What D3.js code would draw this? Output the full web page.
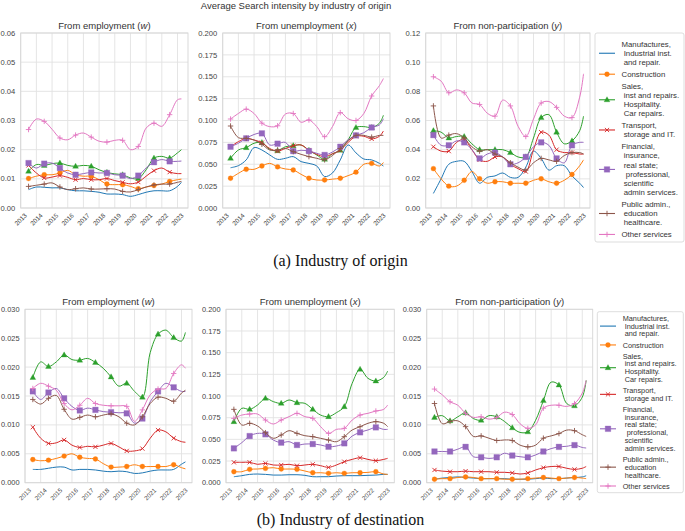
<!DOCTYPE html>
<html><head><meta charset="utf-8">
<script src="https://cdn.jsdelivr.net/npm/d3@7"></script>
<style>
html,body{margin:0;padding:0;background:#fff;}
svg{display:block;}
text{font-family:"Liberation Sans",Arial,sans-serif;}
text.caption{font-family:"Liberation Serif","Times New Roman",serif;}
</style></head><body>
<svg id="chart" width="685" height="531"></svg>
<script>
// ---------------- DATA ----------------
const years = [2013.5,2014,2014.5,2015,2015.5,2016,2016.5,2017,2017.5,2018,2018.5,2019,2019.5,2020,2020.5,2021,2021.5,2022,2022.5,2023,2023.25];
const yearTicks = [2013,2014,2015,2016,2017,2018,2019,2020,2021,2022,2023];
const industryLabels = [
  ["Manufactures,", " Industrial inst.", " and repair."],
  ["Construction"],
  ["Sales,", " inst and repairs.", " Hospitality.", " Car repairs."],
  ["Transport,", " storage and IT."],
  ["Financial,", " insurance,", " real state;", "  professional,", " scientific", " admin services."],
  ["Public admin.,", " education", " healthcare."],
  ["Other services"]
];
const panelTitles = [["From employment (", "w", ")"], ["From unemployment (", "x", ")"], ["From non-participation (", "y", ")"]];
const suptitleTop = "Average Search intensity by industry of origin";
const captions = ["(a) Industry of origin", "(b) Industry of destination"];

const ticksTopW = [0, 0.01, 0.02, 0.03, 0.04, 0.05, 0.06];
const labelsTopW = ["0.00", "0.01", "0.02", "0.03", "0.04", "0.05", "0.06"];
const ticksX = [0, 0.025, 0.05, 0.075, 0.1, 0.125, 0.15, 0.175, 0.2];
const labelsX = ["0.000", "0.025", "0.050", "0.075", "0.100", "0.125", "0.150", "0.175", "0.200"];
const ticksTopY = [0, 0.02, 0.04, 0.06, 0.08, 0.10, 0.12];
const labelsTopY = ["0.00", "0.02", "0.04", "0.06", "0.08", "0.10", "0.12"];
const ticksBot = [0, 0.005, 0.01, 0.015, 0.02, 0.025, 0.03];
const labelsBot = ["0.000", "0.005", "0.010", "0.015", "0.020", "0.025", "0.030"];

// series order: manufactures, construction, sales, transport, financial, public admin, other
const originW = [
  [0.0063,0.0072,0.0071,0.0069,0.0069,0.0063,0.0059,0.0059,0.0057,0.0054,0.0048,0.0048,0.0046,0.0040,0.0046,0.0054,0.0059,0.0059,0.0059,0.0074,0.0088],
  [0.0101,0.0109,0.0114,0.0114,0.0120,0.0129,0.0114,0.0109,0.0109,0.0097,0.0082,0.0080,0.0080,0.0074,0.0066,0.0072,0.0077,0.0082,0.0091,0.0097,0.0099],
  [0.0126,0.0149,0.0146,0.0152,0.0154,0.0146,0.0143,0.0146,0.0143,0.0131,0.0122,0.0117,0.0114,0.0103,0.0101,0.0131,0.0171,0.0177,0.0171,0.0189,0.0200],
  [0.0146,0.0120,0.0103,0.0106,0.0111,0.0105,0.0097,0.0101,0.0097,0.0097,0.0101,0.0094,0.0088,0.0083,0.0089,0.0109,0.0128,0.0137,0.0123,0.0118,0.0118],
  [0.0154,0.0137,0.0152,0.0154,0.0137,0.0120,0.0114,0.0118,0.0122,0.0120,0.0120,0.0114,0.0111,0.0101,0.0111,0.0137,0.0157,0.0166,0.0160,0.0160,0.0161],
  [0.0074,0.0078,0.0082,0.0086,0.0072,0.0063,0.0066,0.0069,0.0065,0.0065,0.0066,0.0065,0.0057,0.0055,0.0063,0.0072,0.0079,0.0082,0.0082,0.0088,0.0091],
  [0.0269,0.0305,0.0297,0.0270,0.0240,0.0234,0.0250,0.0257,0.0243,0.0229,0.0226,0.0232,0.0232,0.0200,0.0211,0.0274,0.0291,0.0280,0.0320,0.0371,0.0374]
];
const originX = [
  [0.046,0.0484,0.055,0.069,0.0663,0.0606,0.0556,0.0568,0.0587,0.053,0.051,0.048,0.036,0.040,0.055,0.072,0.063,0.056,0.055,0.051,0.048],
  [0.034,0.0396,0.0442,0.0442,0.048,0.051,0.047,0.0446,0.0434,0.0385,0.034,0.032,0.032,0.033,0.034,0.037,0.041,0.050,0.051,0.048,0.052],
  [0.0568,0.0663,0.069,0.074,0.0747,0.067,0.0655,0.070,0.0712,0.072,0.066,0.0606,0.0556,0.062,0.066,0.078,0.092,0.093,0.092,0.097,0.106],
  [0.070,0.0758,0.0796,0.0777,0.0747,0.068,0.065,0.068,0.0712,0.072,0.066,0.0613,0.0587,0.062,0.066,0.075,0.082,0.082,0.079,0.082,0.088],
  [0.070,0.074,0.0796,0.084,0.0853,0.072,0.0735,0.075,0.065,0.066,0.065,0.0625,0.0606,0.064,0.070,0.078,0.083,0.086,0.092,0.095,0.102],
  [0.0937,0.0804,0.0796,0.0777,0.0728,0.0663,0.0663,0.068,0.0644,0.0613,0.0587,0.0568,0.055,0.060,0.068,0.077,0.083,0.083,0.081,0.083,0.083],
  [0.1017,0.108,0.113,0.108,0.097,0.093,0.094,0.1074,0.108,0.098,0.1006,0.093,0.0815,0.093,0.109,0.102,0.100,0.108,0.128,0.140,0.148]
];
const originY = [
  [0.010,0.020,0.030,0.032,0.032,0.025,0.017,0.021,0.022,0.024,0.021,0.021,0.028,0.039,0.034,0.026,0.029,0.029,0.022,0.017,0.014],
  [0.027,0.020,0.015,0.015,0.019,0.025,0.020,0.017,0.018,0.018,0.017,0.017,0.017,0.019,0.020,0.018,0.017,0.019,0.023,0.029,0.033],
  [0.053,0.052,0.048,0.049,0.049,0.044,0.040,0.040,0.040,0.040,0.038,0.035,0.035,0.048,0.062,0.064,0.052,0.044,0.046,0.053,0.063],
  [0.042,0.039,0.039,0.045,0.047,0.040,0.033,0.032,0.035,0.035,0.030,0.027,0.025,0.040,0.052,0.050,0.040,0.038,0.038,0.037,0.037],
  [0.050,0.043,0.043,0.046,0.045,0.040,0.034,0.037,0.038,0.035,0.030,0.031,0.035,0.042,0.045,0.043,0.034,0.031,0.043,0.045,0.045],
  [0.070,0.048,0.050,0.051,0.048,0.042,0.039,0.040,0.037,0.035,0.031,0.028,0.026,0.031,0.034,0.033,0.032,0.036,0.038,0.038,0.037],
  [0.090,0.087,0.079,0.081,0.079,0.072,0.071,0.065,0.063,0.074,0.070,0.056,0.049,0.061,0.072,0.073,0.069,0.063,0.062,0.076,0.092]
];
const destW = [
  [0.0023,0.0023,0.0025,0.0027,0.0027,0.0022,0.0023,0.0023,0.0022,0.0020,0.0019,0.0020,0.0019,0.0016,0.0017,0.0020,0.0022,0.0022,0.0023,0.0032,0.0036],
  [0.0040,0.0038,0.0039,0.0042,0.0046,0.0050,0.0044,0.0042,0.0041,0.0033,0.0027,0.0027,0.0028,0.0031,0.0028,0.0028,0.0028,0.0028,0.0031,0.0026,0.0024],
  [0.0182,0.0209,0.0201,0.0209,0.0221,0.0213,0.0212,0.0215,0.0208,0.0198,0.0183,0.0167,0.0172,0.0158,0.0148,0.0225,0.0257,0.0264,0.0251,0.0245,0.0260],
  [0.0096,0.0077,0.0068,0.0069,0.0074,0.0065,0.0061,0.0063,0.0062,0.0065,0.0068,0.0062,0.0055,0.0055,0.0059,0.0077,0.0091,0.0088,0.0077,0.0071,0.0070],
  [0.0158,0.0144,0.0156,0.0163,0.0146,0.0132,0.0125,0.0129,0.0126,0.0123,0.0122,0.0121,0.0120,0.0103,0.0111,0.0140,0.0158,0.0172,0.0165,0.0158,0.0158],
  [0.0144,0.0136,0.0146,0.0151,0.0127,0.0110,0.0113,0.0117,0.0114,0.0117,0.0119,0.0114,0.0103,0.0100,0.0114,0.0137,0.0148,0.0146,0.0141,0.0155,0.0160],
  [0.0163,0.0172,0.0167,0.0160,0.0137,0.0126,0.0134,0.0146,0.0137,0.0134,0.0133,0.0133,0.0132,0.0106,0.0126,0.0152,0.0162,0.0163,0.0189,0.0204,0.0198]
];
const destX = [
  [0.0069,0.0081,0.0096,0.0100,0.0096,0.0088,0.0088,0.0092,0.0092,0.0085,0.0069,0.0069,0.0069,0.0077,0.0081,0.0081,0.0081,0.0085,0.0088,0.0096,0.0096],
  [0.0127,0.0127,0.0154,0.0158,0.0165,0.0173,0.0158,0.0158,0.0154,0.0135,0.0115,0.0115,0.0108,0.0115,0.0108,0.0115,0.0115,0.0119,0.0127,0.0100,0.0096],
  [0.0704,0.0858,0.0846,0.0896,0.0973,0.0935,0.0915,0.0954,0.0923,0.0915,0.0846,0.0780,0.0762,0.0808,0.0877,0.1146,0.1308,0.1204,0.1173,0.1215,0.1288],
  [0.0235,0.0235,0.0235,0.0212,0.0223,0.0204,0.0204,0.0212,0.0196,0.0204,0.0212,0.0196,0.0177,0.0204,0.0242,0.0269,0.0288,0.0269,0.0254,0.0269,0.0281],
  [0.0396,0.0462,0.0538,0.0569,0.0558,0.0492,0.0462,0.0473,0.0435,0.0446,0.0446,0.0435,0.0415,0.0423,0.0454,0.0538,0.0581,0.0608,0.0638,0.0615,0.0615],
  [0.0846,0.0665,0.0685,0.0654,0.0577,0.0512,0.0550,0.0600,0.0569,0.0542,0.0531,0.0512,0.0492,0.0473,0.0531,0.0608,0.0646,0.0685,0.0704,0.0685,0.0646],
  [0.0742,0.0780,0.0792,0.0792,0.0723,0.0677,0.0723,0.0762,0.0800,0.0762,0.0742,0.0646,0.0569,0.0615,0.0627,0.0723,0.0780,0.0800,0.0827,0.0846,0.0896]
];
const destY = [
  [0.0006,0.0008,0.0009,0.0010,0.0009,0.0008,0.0007,0.0007,0.0007,0.0007,0.0006,0.0006,0.0006,0.0007,0.0008,0.0007,0.0007,0.0008,0.0009,0.0010,0.0012],
  [0.0006,0.0007,0.0007,0.0009,0.0010,0.0009,0.0007,0.0007,0.0007,0.0006,0.0006,0.0006,0.0007,0.0008,0.0009,0.0008,0.0007,0.0008,0.0009,0.0008,0.0007],
  [0.0113,0.0116,0.0107,0.0114,0.0121,0.0111,0.0108,0.0116,0.0114,0.0106,0.0095,0.0087,0.0088,0.0108,0.0142,0.0174,0.0169,0.0137,0.0133,0.0148,0.0177],
  [0.0022,0.0020,0.0019,0.0019,0.0020,0.0019,0.0019,0.0019,0.0018,0.0018,0.0017,0.0015,0.0017,0.0022,0.0026,0.0028,0.0028,0.0025,0.0023,0.0025,0.0028],
  [0.0054,0.0054,0.0054,0.0058,0.0062,0.0045,0.0044,0.0042,0.0044,0.0051,0.0047,0.0045,0.0044,0.0048,0.0054,0.0059,0.0062,0.0063,0.0065,0.0061,0.0060],
  [0.0137,0.0102,0.0106,0.0107,0.0097,0.0080,0.0081,0.0077,0.0073,0.0074,0.0073,0.0065,0.0062,0.0065,0.0077,0.0081,0.0085,0.0091,0.0090,0.0083,0.0080],
  [0.0162,0.0152,0.0140,0.0134,0.0120,0.0113,0.0114,0.0110,0.0113,0.0122,0.0118,0.0102,0.0094,0.0100,0.0129,0.0134,0.0134,0.0132,0.0137,0.0155,0.0177]
];

// ---------------- STYLE / LAYOUT ----------------
const colors = ["#1f77b4","#ff7f0e","#2ca02c","#d62728","#9467bd","#8c564b","#e377c2"];
const markerTypes = ["none","circle","triangle","x","square","plus","plus"];
const xDomain = [2013, 2023.67];

const sections = [
  { y0: 33, y1: 208, titleY: 29.3, tickFont: 7.6, xLabFont: 6.4,
    panels: [
      { x0: 20.7, x1: 188, data: originW, ticks: ticksTopW, labels: labelsTopW },
      { x0: 222.7, x1: 390, data: originX, ticks: ticksX, labels: labelsX },
      { x0: 425.7, x1: 590, data: originY, ticks: ticksTopY, labels: labelsTopY }
    ],
    legend: { x: 595, y: 33, w: 89, h: 209, first: 44, lh: 9.25, gap: 11.7, font: 7.8, lx0: 599, lx1: 615, tx: 621.5 },
    caption: { text: captions[0], y: 266 }
  },
  { y0: 309.3, y1: 482.7, titleY: 305, tickFont: 7.4, xLabFont: 6.3,
    panels: [
      { x0: 25, x1: 192, data: destW, ticks: ticksBot, labels: labelsBot },
      { x0: 226, x1: 394.3, data: destX, ticks: ticksX, labels: labelsX },
      { x0: 426.7, x1: 592.7, data: destY, ticks: ticksBot, labels: labelsBot }
    ],
    legend: { x: 597.3, y: 311.7, w: 86, h: 181, first: 318.3, lh: 7.8, gap: 11.05, font: 7.3, lx0: 600, lx1: 616, tx: 622.7 },
    caption: { text: captions[1], y: 525 }
  }
];

const svg = d3.select("#chart");

function markerPath(t) {
  switch (t) {
    case "circle": return d3.symbol(d3.symbolCircle, 19)();
    case "triangle": return "M0,-3.1L2.9,2L-2.9,2Z";
    case "square": return "M-2.8,-2.8h5.6v5.6h-5.6Z";
    case "x": return "M-2.1,-2.1L2.1,2.1M-2.1,2.1L2.1,-2.1";
    case "plus": return "M-2.7,0H2.7M0,-2.7V2.7";
  }
  return null;
}
function drawMarker(g, t, color, px, py) {
  const d = markerPath(t);
  if (!d) return;
  const filled = (t === "circle" || t === "triangle" || t === "square");
  g.append("path").attr("d", d)
    .attr("transform", `translate(${px},${py})`)
    .attr("fill", filled ? color : "none")
    .attr("stroke", color)
    .attr("stroke-width", filled ? 0.3 : 0.9);
}

// suptitle
svg.append("text").attr("x", 296).attr("y", 8.6).attr("text-anchor", "middle")
  .attr("font-size", 9.5).attr("fill", "#333").text(suptitleTop);

sections.forEach(sec => {
  sec.panels.forEach((p, pi) => {
    const x = d3.scaleLinear().domain(xDomain).range([p.x0, p.x1]);
    const y = d3.scaleLinear().domain([p.ticks[0], p.ticks[p.ticks.length - 1]]).range([sec.y1, sec.y0]);
    const g = svg.append("g");

    // grid
    g.selectAll(".hg").data(p.ticks).join("line")
      .attr("x1", p.x0).attr("x2", p.x1).attr("y1", d => y(d)).attr("y2", d => y(d))
      .attr("stroke", "#e2e2e2").attr("stroke-width", 0.9);
    g.selectAll(".vg").data(yearTicks).join("line")
      .attr("x1", d => x(d)).attr("x2", d => x(d)).attr("y1", sec.y0).attr("y2", sec.y1)
      .attr("stroke", "#e2e2e2").attr("stroke-width", 0.9);
    g.append("rect").attr("x", p.x0).attr("y", sec.y0).attr("width", p.x1 - p.x0).attr("height", sec.y1 - sec.y0)
      .attr("fill", "none").attr("stroke", "#d6d6d6").attr("stroke-width", 0.9);

    // y tick labels
    g.selectAll(".yl").data(p.ticks).join("text")
      .attr("x", p.x0 - 5.5).attr("y", d => y(d)).attr("dy", "0.35em")
      .attr("text-anchor", "end").attr("font-size", sec.tickFont).attr("fill", "#444")
      .text((d, i) => p.labels[i]);
    // x tick labels
    g.selectAll(".xl").data(yearTicks).join("text")
      .attr("transform", d => `translate(${x(d)},${sec.y1 + 11.5}) rotate(-45)`)
      .attr("text-anchor", "middle").attr("dy", "0.35em")
      .attr("font-size", sec.xLabFont).attr("fill", "#444").text(d => d);

    // title
    const t = g.append("text").attr("x", (p.x0 + p.x1) / 2).attr("y", sec.titleY)
      .attr("text-anchor", "middle").attr("font-size", 9.5).attr("fill", "#333");
    t.append("tspan").text(panelTitles[pi][0]);
    t.append("tspan").attr("font-style", "italic").text(panelTitles[pi][1]);
    t.append("tspan").text(panelTitles[pi][2]);

    // lines
    const line = d3.line().x(d => x(d[0])).y(d => y(d[1])).curve(d3.curveCatmullRom.alpha(0.5));
    p.data.forEach((series, si) => {
      const pts = years.map((yr, i) => [yr, series[i]]);
      g.append("path").attr("d", line(pts)).attr("fill", "none")
        .attr("stroke", colors[si]).attr("stroke-width", 1);
      pts.forEach((pt, i) => {
        if (pt[0] % 1 === 0.5) drawMarker(g, markerTypes[si], colors[si], x(pt[0]), y(pt[1]));
      });
    });
  });

  // legend
  const L = sec.legend;
  const lg = svg.append("g");
  lg.append("rect").attr("x", L.x).attr("y", L.y).attr("width", L.w).attr("height", L.h)
    .attr("rx", 2).attr("fill", "#fff").attr("stroke", "#d4d4d4").attr("stroke-width", 0.8);
  let cy = L.first;
  industryLabels.forEach((lines, si) => {
    const ys = lines.map((_, k) => cy + k * L.lh);
    const mid = (ys[0] + ys[ys.length - 1]) / 2;
    lg.append("line").attr("x1", L.lx0).attr("x2", L.lx1).attr("y1", mid).attr("y2", mid)
      .attr("stroke", colors[si]).attr("stroke-width", 1.1);
    drawMarker(lg, markerTypes[si], colors[si], (L.lx0 + L.lx1) / 2, mid);
    lines.forEach((s, k) => {
      lg.append("text").attr("x", L.tx).attr("y", ys[k]).attr("dy", "0.35em")
        .attr("font-size", L.font).attr("fill", "#333").style("white-space", "pre").text(s);
    });
    cy = ys[ys.length - 1] + L.gap;
  });

  // caption
  svg.append("text").attr("class", "caption").attr("x", 340.5).attr("y", sec.caption.y).attr("text-anchor", "middle")
    .attr("font-size", 16).attr("fill", "#111").text(sec.caption.text);
});
</script>
</body></html>
